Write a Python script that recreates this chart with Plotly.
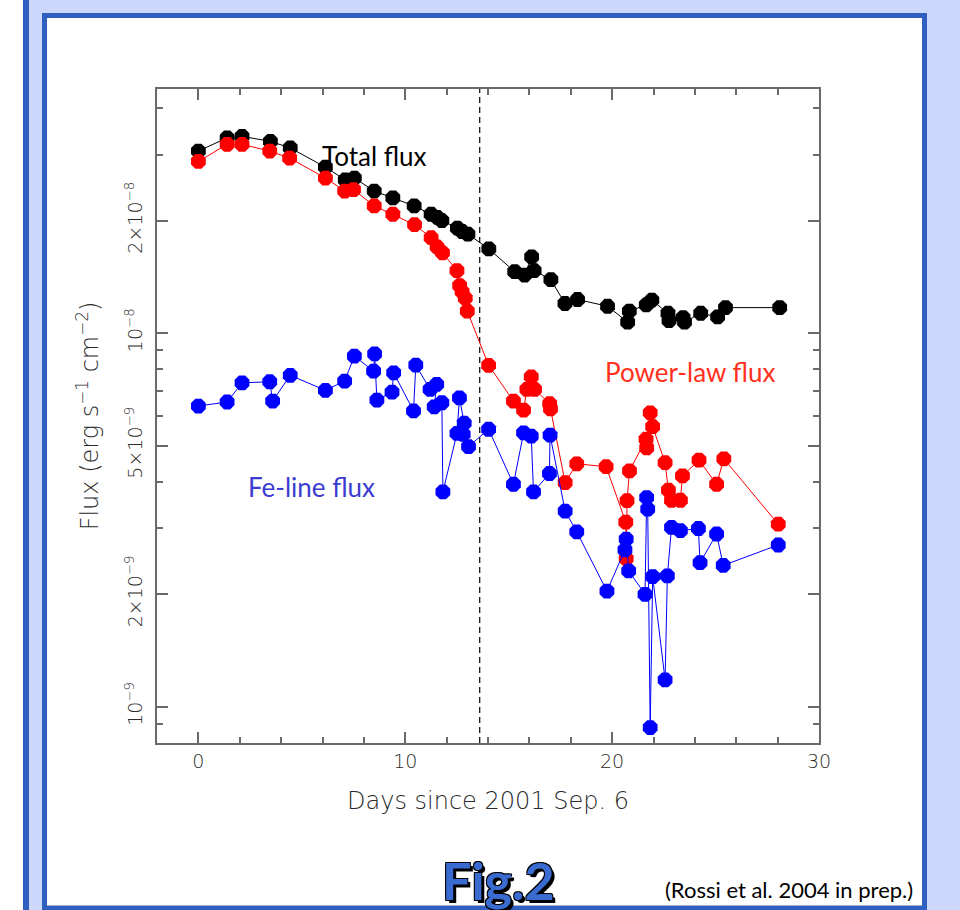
import math
import plotly.graph_objects as go

# ---------------- data ----------------
total_days = [0.00, 1.39, 2.11, 3.48, 4.44, 6.14, 7.10, 7.54, 8.50, 9.40,
              10.43, 11.25, 11.55, 11.77, 12.52, 12.75, 13.03, 14.04, 15.29, 15.77,
              16.11, 16.23, 17.04, 17.72, 18.33, 19.78, 20.75, 20.83, 21.65, 21.92,
              22.70, 22.75, 23.43, 23.50, 24.28, 25.10, 25.48, 28.10]
total_flux = [3.07e-8, 3.33e-8, 3.36e-8, 3.26e-8, 3.13e-8, 2.78e-8, 2.57e-8, 2.60e-8, 2.40e-8, 2.30e-8,
              2.19e-8, 2.08e-8, 2.04e-8, 2.00e-8, 1.91e-8, 1.87e-8, 1.84e-8, 1.68e-8, 1.46e-8, 1.43e-8,
              1.60e-8, 1.47e-8, 1.39e-8, 1.20e-8, 1.23e-8, 1.18e-8, 1.07e-8, 1.145e-8, 1.19e-8, 1.225e-8,
              1.13e-8, 1.08e-8, 1.10e-8, 1.07e-8, 1.13e-8, 1.105e-8, 1.17e-8, 1.17e-8]

powerlaw_days = [0.00, 1.39, 2.11, 3.45, 4.41, 6.14, 7.07, 7.50, 8.50, 9.40,
                 10.45, 11.25, 11.54, 11.80, 12.50, 12.63, 12.75, 12.90, 13.00, 14.03,
                 15.23, 15.72, 15.88, 16.09, 16.25, 16.98, 17.02, 17.73, 18.29, 19.71,
                 20.66, 20.68, 20.72, 20.84, 21.64, 21.67, 21.84, 21.96, 22.56, 22.72,
                 22.87, 23.30, 23.40, 24.20, 25.05, 25.40, 28.03]
powerlaw_flux = [2.88e-8, 3.20e-8, 3.20e-8, 3.07e-8, 2.94e-8, 2.60e-8, 2.40e-8, 2.42e-8, 2.19e-8, 2.08e-8,
                 1.95e-8, 1.80e-8, 1.70e-8, 1.64e-8, 1.47e-8, 1.34e-8, 1.29e-8, 1.24e-8, 1.145e-8, 8.20e-9,
                 6.58e-9, 6.22e-9, 7.07e-9, 7.64e-9, 7.07e-9, 6.47e-9, 6.27e-9, 3.98e-9, 4.47e-9, 4.39e-9,
                 3.12e-9, 2.49e-9, 3.56e-9, 4.28e-9, 5.20e-9, 4.93e-9, 6.12e-9, 5.62e-9, 4.50e-9, 3.80e-9,
                 3.57e-9, 3.57e-9, 4.15e-9, 4.57e-9, 3.94e-9, 4.61e-9, 3.08e-9]

feline_days = [0.00, 1.39, 2.11, 3.45, 3.59, 4.44, 6.14, 7.07, 7.54, 8.47,
               8.52, 8.63, 9.36, 9.44, 10.40, 10.51, 11.20, 11.52, 11.40, 11.77,
               11.82, 12.50, 12.62, 12.85, 12.80, 13.06, 14.03, 15.23, 15.72, 16.09,
               16.20, 16.97, 17.00, 17.73, 18.29, 19.75, 20.62, 20.68, 20.80, 21.59,
               21.67, 21.72, 21.84, 21.96, 22.56, 22.67, 22.87, 23.30, 24.17, 24.25,
               25.05, 25.37, 28.03]
feline_flux = [6.38e-9, 6.54e-9, 7.36e-9, 7.41e-9, 6.58e-9, 7.71e-9, 7.03e-9, 7.44e-9, 8.68e-9, 7.91e-9,
               8.80e-9, 6.62e-9, 6.95e-9, 7.83e-9, 6.19e-9, 8.21e-9, 7.07e-9, 7.29e-9, 6.35e-9, 6.51e-9,
               3.76e-9, 5.39e-9, 6.71e-9, 5.74e-9, 5.36e-9, 4.97e-9, 5.53e-9, 3.94e-9, 5.41e-9, 5.30e-9,
               3.76e-9, 4.21e-9, 5.33e-9, 3.34e-9, 2.94e-9, 2.04e-9, 2.63e-9, 2.81e-9, 2.31e-9, 2.00e-9,
               3.63e-9, 3.38e-9, 8.8e-10, 2.23e-9, 1.18e-9, 2.24e-9, 3.02e-9, 2.96e-9, 3.00e-9, 2.43e-9,
               2.90e-9, 2.39e-9, 2.71e-9]

transition_day = 13.6

x_range = [-2, 30]
y_range = [8e-10, 4.5e-8]
y_tickvals = [1e-9, 2e-9, 5e-9, 1e-8, 2e-8]
y_ticktext = ["10<sup>\u22129</sup>", "2\u00d710<sup>\u22129</sup>", "5\u00d710<sup>\u22129</sup>",
              "10<sup>\u22128</sup>", "2\u00d710<sup>\u22128</sup>"]
y_minor_vals = [9e-10, 3e-9, 4e-9, 6e-9, 7e-9, 8e-9, 9e-9, 3e-8, 4e-8]
x_tickvals = [0, 10, 20, 30]
x_minor_vals = [-2, 2, 4, 6, 8, 12, 14, 16, 18, 22, 24, 26, 28]

# ---------------- figure ----------------
W, H = 960, 910
L, R, T, B = 157, 819, 89, 743  # plot area in pixels


def px(xp):
    return (xp - L) / (R - L)


def py(yp):
    return (B - yp) / (B - T)


fig = go.Figure()

marker_common = dict(symbol="octagon", size=16, line=dict(width=0))
fig.add_trace(go.Scatter(x=total_days, y=total_flux, mode="lines+markers",
                         line=dict(color="black", width=1),
                         marker=dict(color="black", **marker_common), name="Total"))
fig.add_trace(go.Scatter(x=powerlaw_days, y=powerlaw_flux, mode="lines+markers",
                         line=dict(color="#ff0000", width=1),
                         marker=dict(color="#ff0000", **marker_common), name="Power-law"))
fig.add_trace(go.Scatter(x=feline_days, y=feline_flux, mode="lines+markers",
                         line=dict(color="#0000ff", width=1),
                         marker=dict(color="#0000ff", **marker_common), name="Fe-line"))

axis_font = dict(family="DejaVu Sans", size=19, color="#2a2a2a", weight=200)
title_font = dict(family="DejaVu Sans", size=24, color="#2a2a2a", weight=200)
axis_col = "#6a6a6a"

fig.update_xaxes(range=x_range, tickmode="array", tickvals=x_tickvals,
                 ticks="inside", ticklen=11, tickwidth=1.5, tickcolor=axis_col,
                 showline=True, linecolor=axis_col, linewidth=1.5, mirror="allticks",
                 showgrid=False, zeroline=False, tickfont=axis_font,
                 minor=dict(tickmode="array", tickvals=x_minor_vals, ticks="inside",
                            ticklen=6, tickwidth=1.5, tickcolor=axis_col, showgrid=False),
                 title=dict(text="Days since 2001 Sep. 6", font=title_font, standoff=22),
                 automargin=False)
fig.update_yaxes(type="log", range=[math.log10(y_range[0]), math.log10(y_range[1])],
                 tickmode="array", tickvals=y_tickvals, ticktext=y_ticktext, tickangle=-90,
                 ticks="inside", ticklen=11, tickwidth=1.5, tickcolor=axis_col,
                 showline=True, linecolor=axis_col, linewidth=1.5, mirror="allticks",
                 showgrid=False, zeroline=False, tickfont=axis_font, ticklabelstandoff=6,
                 minor=dict(tickmode="array", tickvals=y_minor_vals, ticks="inside",
                            ticklen=6, tickwidth=1.5, tickcolor=axis_col, showgrid=False),
                 title=dict(text="Flux (erg s<sup>\u22121</sup> cm<sup>\u22122</sup>)",
                            font=title_font, standoff=16),
                 automargin=False)

shapes = [
    # light blue background band
    dict(type="rect", xref="paper", yref="paper", x0=px(23), x1=px(W + 2), y0=py(-2), y1=py(H + 2),
         fillcolor="#cbd8fb", line=dict(width=0), layer="below"),
    # dark blue stripe on the left
    dict(type="rect", xref="paper", yref="paper", x0=px(23), x1=px(29), y0=py(-2), y1=py(H + 2),
         fillcolor="#2f5fbf", line=dict(width=0), layer="below"),
    # white panel with blue border
    dict(type="rect", xref="paper", yref="paper", x0=px(44.5), x1=px(924.5), y0=py(15.5), y1=py(908),
         fillcolor="white", line=dict(color="#2f5fbf", width=5), layer="below"),
    # transition marker
    dict(type="line", xref="x", yref="paper", x0=transition_day, x1=transition_day, y0=0, y1=1,
         line=dict(color="black", width=1.2, dash="6px,4px"), layer="below"),
]

label_font = "Lato"


def label(text, xp, yp, size, color, **extra):
    return dict(text=text, x=px(xp), y=py(yp), xref="paper", yref="paper", showarrow=False,
                xanchor="center", yanchor="middle",
                font=dict(family=label_font, size=size, color=color, **extra))


annotations = [
    label("Total flux", 374, 156, 26, "black"),
    label("Power-law flux", 690, 372, 26, "#ff3020"),
    label("Fe-line flux", 311, 487, 26, "#3c3cd0"),
    label("Fig.2", 498, 880, 52, "#3a6bd0", weight="bold",
          shadow="3px 3px 0px #000, -1px -1px 0px #000, 1px -1px 0px #000, -1px 1px 0px #000"),
    label("(Rossi et al. 2004 in prep.)", 789, 889, 22, "black"),
]

fig.update_layout(width=W, height=H,
                  margin=dict(l=L, r=W - R, t=T, b=H - B, pad=0),
                  paper_bgcolor="white", plot_bgcolor="white",
                  showlegend=False, shapes=shapes, annotations=annotations)

fig.write_html("out.html", config={"displayModeBar": False},
               post_script="document.body.style.margin='0';document.body.style.padding='0';"
                           "document.body.style.overflow='hidden';")
